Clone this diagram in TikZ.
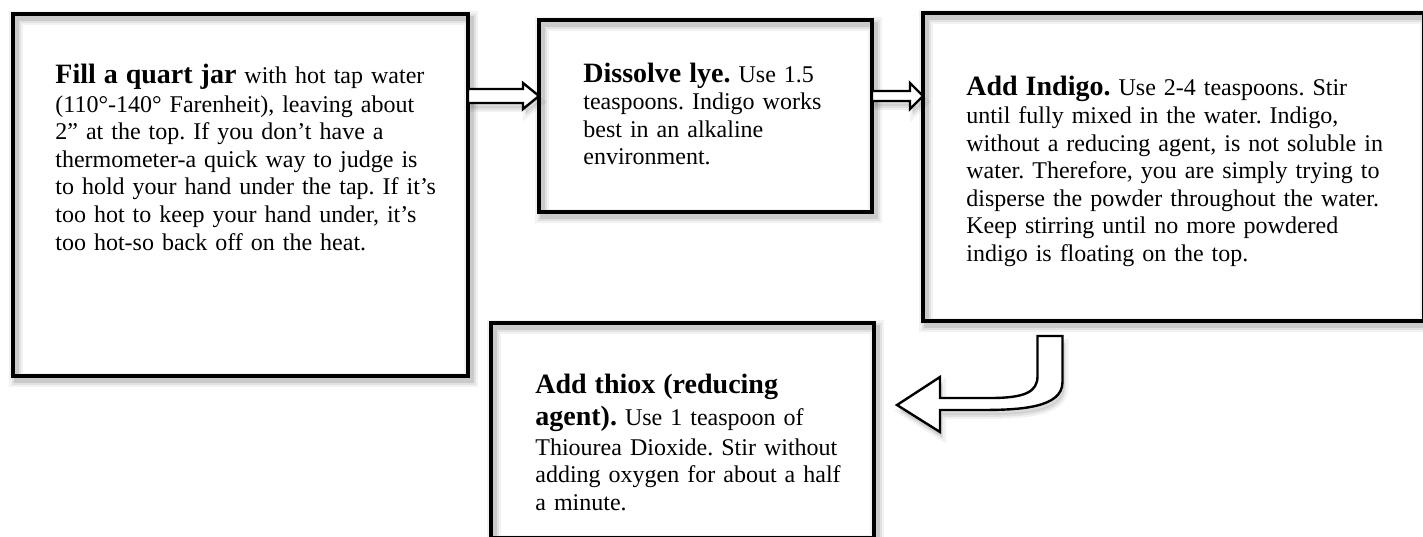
\documentclass[tikz,border=0pt]{standalone}
\usepackage{fontspec}
\setmainfont{Liberation Serif}
\usetikzlibrary{calc}
\frenchspacing

\newcommand{\StepHead}[1]{{\fontsize{14}{16}\selectfont\bfseries #1}}

\newcommand{\DrawArrow}[5]{
    \draw[blockarrow] ($(#1)+(0,-#3)$) -- ($(#2)+(-#5,-#3)$) -- ($(#2)+(-#5,-#4)$) -- (#2)
        -- ($(#2)+(-#5,#4)$) -- ($(#2)+(-#5,#3)$) -- ($(#1)+(0,#3)$) -- cycle;
}

\begin{document}
\begin{tikzpicture}[
  x=0.5pt, y=-0.5pt,
  boxshadow/.style={
    preaction={draw=black, draw opacity=.05, line width=7pt, transform canvas={shift={(1.5pt,-2pt)}}},
    preaction={draw=black, draw opacity=.07, line width=4.5pt, transform canvas={shift={(1.5pt,-2pt)}}},
    preaction={draw=black, draw opacity=.10, line width=2.5pt, transform canvas={shift={(1.5pt,-2pt)}}}},
  arrowshadow/.style={
    preaction={fill=black, fill opacity=.07, transform canvas={shift={(1pt,-2.5pt)}}},
    preaction={fill=black, fill opacity=.07, transform canvas={shift={(1.5pt,-3.5pt)}}},
    preaction={draw=black, draw opacity=.05, line width=3pt, transform canvas={shift={(1.5pt,-3pt)}}}},
  stepbox/.style={draw, line width=2pt, anchor=north west, inner sep=0pt, outer sep=0pt, boxshadow},
  steptext/.style={anchor=base west, inner sep=0pt, align=left, font=\fontsize{12}{13.8}\selectfont},
  blockarrow/.style={draw, line width=1.2pt, fill=white, line join=miter, arrowshadow}
  ]
  \useasboundingbox (0,0) rectangle (1423,536);
  \clip (0,0) rectangle (1423,536);

  \node[stepbox, minimum width=227.5pt, minimum height=181pt] (fill) at (13,14) {};
  \node[stepbox, minimum width=166.5pt, minimum height=96pt] (lye) at (539,20) {};
  \node[stepbox, minimum width=250.5pt, minimum height=154pt] (indigo) at (923,13) {};
  \node[stepbox, minimum width=191.5pt, minimum height=107.5pt] (thiox) at (491,323) {};

  \node[steptext, text width=195pt] (fill-text) at ($(fill.north west)+(42,69)$)
    {\StepHead{Fill a quart jar} with hot tap water\\[0.7pt]
     (110°-140° Farenheit), leaving about\\
     2” at the top. If you don’t have a\\
     thermometer-a quick way to judge is\\
     to hold your hand under the tap. If it’s\\
     too hot to keep your hand under, it’s\\
     too hot-so back off on the heat.};
  \node[steptext, text width=140pt] (lye-text) at ($(lye.north west)+(44,62)$)
    {\StepHead{Dissolve lye.} Use 1.5\\
     teaspoons. Indigo works\\
     best in an alkaline\\
     environment.};
  \node[steptext, text width=220pt] (indigo-text) at ($(indigo.north west)+(43,82)$)
    {\StepHead{Add Indigo.} Use 2-4 teaspoons. Stir\\[0.4pt]
     until fully mixed in the water. Indigo,\\
     without a reducing agent, is not soluble in\\
     water. Therefore, you are simply trying to\\
     disperse the powder throughout the water.\\
     Keep stirring until no more powdered\\
     indigo is floating on the top.};
  \node[steptext, text width=165pt] (thiox-text) at ($(thiox.north west)+(44,70)$)
    {\StepHead{Add thiox (reducing}\\[2.2pt]
     \StepHead{agent).} Use 1 teaspoon of\\[1.2pt]
     Thiourea Dioxide. Stir without\\
     adding oxygen for about a half\\
     a minute.};

  \coordinate (a1-start) at ($(fill.north east)+(0,82)$);
  \coordinate (a1-end) at ($(lye.north west)+(0,76)$);
  \coordinate (a2-start) at ($(lye.north east)+(0,76)$);
  \coordinate (a2-end) at ($(indigo.north west)+(0,83)$);
  \coordinate (u-start) at ($(indigo.south west)+(127,15)$);
  \coordinate (u-tip) at ($(thiox.north east)+(23,82)$);

  \DrawArrow{a1-start}{a1-end}{7}{13}{16}
  \DrawArrow{a2-start}{a2-end}{5}{13}{13}

  \draw[blockarrow] ($(u-start)+(-12.5,0)$) -- ($(u-start)+(12.5,0)$) -- ($(u-start)+(12.5,46)$)
    .. controls ($(u-start)+(12.5,72)$) and ($(u-start)+(-30,74)$) .. ($(u-start)+(-70,74)$)
    -- ($(u-tip)+(43,5)$) -- ($(u-tip)+(43,27)$) -- (u-tip) -- ($(u-tip)+(43,-28)$) -- ($(u-tip)+(43,-7)$)
    -- ($(u-start)+(-60,62)$)
    .. controls ($(u-start)+(-25,62)$) and ($(u-start)+(-12.5,56)$) .. ($(u-start)+(-12.5,40)$)
    -- cycle;
\end{tikzpicture}
\end{document}
